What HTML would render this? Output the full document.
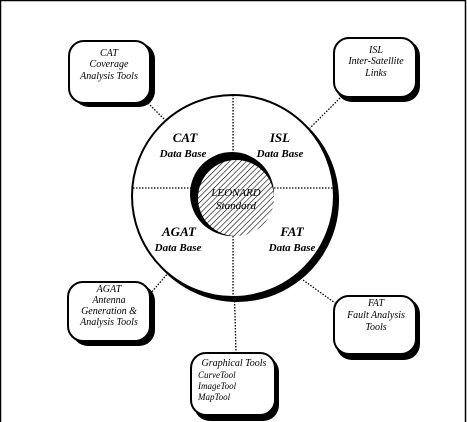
<!DOCTYPE html>
<html><head><style>
html,body{margin:0;padding:0;background:#fff;}
svg{display:block;}
text{font-family:"Liberation Serif",serif;font-style:italic;fill:#000;}
</style></head><body>
<svg width="467" height="422" viewBox="0 0 467 422" xmlns="http://www.w3.org/2000/svg">
<defs>
<pattern id="h" width="4" height="4" patternUnits="userSpaceOnUse" patternTransform="rotate(45)">
<rect width="4" height="4" fill="#fff"/><line x1="0" y1="0" x2="0" y2="4" stroke="#000" stroke-width="1.2"/>
</pattern>
</defs>
<rect x="0.5" y="0.5" width="465" height="430" fill="none" stroke="#000" stroke-width="1.5"/>
<!-- connectors -->
<g stroke="#000" stroke-width="1.3" stroke-dasharray="1.5,1.5" fill="none">
<line x1="148" y1="103" x2="166" y2="121"/>
<line x1="340" y1="98" x2="310" y2="128"/>
<line x1="150" y1="294" x2="169" y2="272"/>
<line x1="303" y1="280" x2="335" y2="303"/>
<line x1="233" y1="94" x2="233" y2="153"/>
<line x1="233" y1="238" x2="236" y2="353"/>
<line x1="135" y1="188" x2="192" y2="188"/>
<line x1="274" y1="188" x2="336" y2="188"/>
</g>
<!-- outer circle with shadow -->
<circle cx="237" cy="200" r="102" fill="#000"/>
<circle cx="233" cy="196" r="101" fill="#fff" stroke="#000" stroke-width="2"/>
<g stroke="#000" stroke-width="1.3" stroke-dasharray="1.5,1.5">
<line x1="233" y1="95" x2="233" y2="297"/>
<line x1="133" y1="188" x2="334" y2="188"/>
</g>
<!-- inner circle -->
<circle cx="232" cy="194" r="42" fill="#000"/>
<circle cx="236" cy="198" r="38" fill="url(#h)"/>
<g font-size="13" font-weight="bold" text-anchor="middle">
<text x="185" y="142">CAT</text>
<text x="183" y="157" font-size="11">Data Base</text>
<text x="280" y="142">ISL</text>
<text x="280" y="157" font-size="11">Data Base</text>
<text x="179" y="236">AGAT</text>
<text x="178" y="251" font-size="11">Data Base</text>
<text x="292" y="236">FAT</text>
<text x="292" y="251" font-size="11">Data Base</text>
</g>
<g font-size="11" text-anchor="middle">
<text x="236" y="196">LEONARD</text>
<text x="236" y="209">Standard</text>
</g>
<!-- boxes -->
<g fill="#000">
<rect x="73" y="43" width="82" height="64" rx="16"/>
<rect x="336" y="40" width="84" height="62" rx="16"/>
<rect x="72" y="285" width="83" height="61" rx="16"/>
<rect x="336" y="298" width="84" height="62" rx="16"/>
<rect x="194" y="356" width="85" height="65" rx="16"/>
</g>
<g fill="#fff" stroke="#000" stroke-width="2">
<rect x="69" y="41" width="81" height="62" rx="15"/>
<rect x="334" y="38" width="82" height="59" rx="15"/>
<rect x="68" y="282" width="82" height="59" rx="15"/>
<rect x="334" y="296" width="82" height="58" rx="15"/>
<rect x="191" y="353" width="84" height="62" rx="15"/>
</g>
<g font-size="10" text-anchor="middle">
<text x="109" y="56">CAT</text>
<text x="109" y="67">Coverage</text>
<text x="109" y="79">Analysis Tools</text>
<text x="376" y="53">ISL</text>
<text x="376" y="64">Inter-Satellite</text>
<text x="376" y="76">Links</text>
<text x="109" y="292">AGAT</text>
<text x="109" y="303">Antenna</text>
<text x="109" y="314">Generation &amp;</text>
<text x="109" y="325">Analysis Tools</text>
<text x="376" y="306">FAT</text>
<text x="376" y="318">Fault Analysis</text>
<text x="376" y="330">Tools</text>
<text x="234" y="366">Graphical Tools</text>
</g>
<g font-size="9">
<text x="198" y="378">CurveTool</text>
<text x="198" y="389">ImageTool</text>
<text x="198" y="400">MapTool</text>
</g>
</svg>
</body></html>
